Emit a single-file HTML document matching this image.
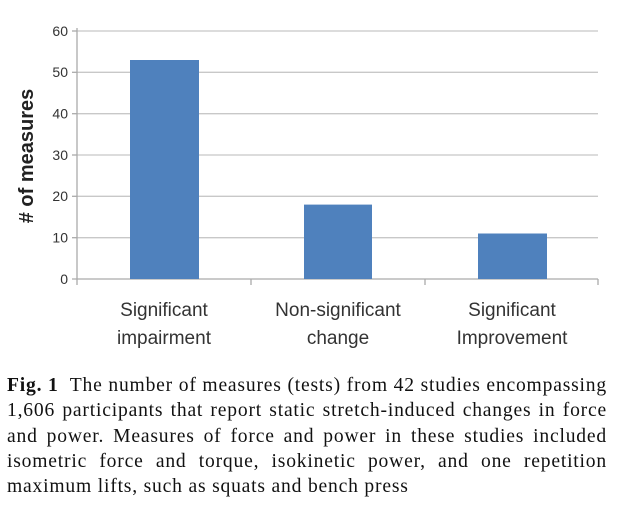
<!DOCTYPE html>
<html><head><style>
body{margin:0;background:#fff;width:628px;height:511px;overflow:hidden}
.cap{position:absolute;left:7px;top:373px;width:600px;font-family:"Liberation Serif",serif;font-size:19.6px;line-height:25.3px;color:#111;letter-spacing:0.8px}
.cap div{text-align:justify;text-align-last:justify;white-space:nowrap}
.cap div.l{text-align-last:left}
</style></head><body>
<svg width="628" height="370" style="position:absolute;left:0;top:0" font-family="Liberation Sans, sans-serif">
<g stroke="#c8c8c8" stroke-width="1.3">
<line x1="77" y1="31" x2="598" y2="31"/><line x1="77" y1="72.3" x2="598" y2="72.3"/>
<line x1="77" y1="113.7" x2="598" y2="113.7"/><line x1="77" y1="155" x2="598" y2="155"/>
<line x1="77" y1="196.3" x2="598" y2="196.3"/><line x1="77" y1="237.7" x2="598" y2="237.7"/>
</g>
<g stroke="#aaa" stroke-width="1.3">
<line x1="77" y1="28" x2="77" y2="285"/><line x1="72" y1="279" x2="598" y2="279"/>
<line x1="72" y1="31" x2="77" y2="31"/><line x1="72" y1="72.3" x2="77" y2="72.3"/><line x1="72" y1="113.7" x2="77" y2="113.7"/><line x1="72" y1="155" x2="77" y2="155"/><line x1="72" y1="196.3" x2="77" y2="196.3"/><line x1="72" y1="237.7" x2="77" y2="237.7"/>
<line x1="251" y1="279" x2="251" y2="285"/><line x1="425" y1="279" x2="425" y2="285"/><line x1="598" y1="279" x2="598" y2="285"/>
</g>
<g fill="#4f81bd">
<rect x="130" y="60" width="69" height="219"/>
<rect x="304" y="204.6" width="68" height="74.4"/>
<rect x="478" y="233.5" width="69" height="45.5"/>
</g>
<g font-size="14" fill="#333" text-anchor="end">
<text x="68" y="36">60</text><text x="68" y="77">50</text><text x="68" y="118.5">40</text><text x="68" y="160">30</text><text x="68" y="201">20</text><text x="68" y="242.5">10</text><text x="68" y="284">0</text>
</g>
<text transform="translate(33,156) rotate(-90)" text-anchor="middle" font-size="20" font-weight="bold" fill="#222"># of measures</text>
<g font-size="19" fill="#333" text-anchor="middle">
<text x="164" y="316">Significant</text><text x="164" y="344">impairment</text>
<text x="338" y="316">Non-significant</text><text x="338" y="344">change</text>
<text x="512" y="316">Significant</text><text x="512" y="344">Improvement</text>
</g>
</svg>
<div class="cap">
<div><b>Fig. 1</b>&nbsp; The number of measures (tests) from 42 studies encompassing</div>
<div>1,606 participants that report static stretch-induced changes in force</div>
<div>and power. Measures of force and power in these studies included</div>
<div>isometric force and torque, isokinetic power, and one repetition</div>
<div class="l">maximum lifts, such as squats and bench press</div>
</div>
</body></html>
